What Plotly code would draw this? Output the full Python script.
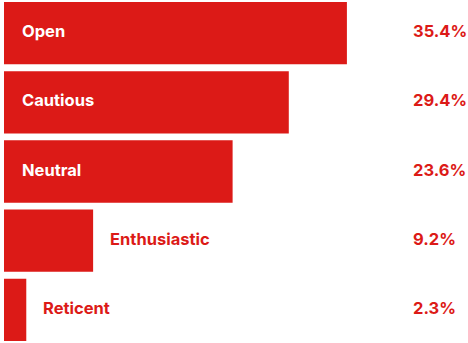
import plotly.graph_objects as go

categories = ["Open", "Cautious", "Neutral", "Enthusiastic", "Reticent"]
values = [35.4, 29.4, 23.6, 9.2, 2.3]
value_labels = ["35.4%", "29.4%", "23.6%", "9.2%", "2.3%"]

RED = "#dc1a17"
FONT = "Inter"

fig = go.Figure(go.Bar(
    x=values, y=categories, orientation="h",
    marker=dict(color=RED, line=dict(width=0)),
    hoverinfo="skip",
))

annotations = []
for cat, v, lab in zip(categories, values, value_labels):
    inside = v > 15
    annotations.append(dict(
        x=1.65 if inside else v + 1.55, y=cat, xref="x", yref="y", yshift=2,
        text="<b>%s</b>" % cat, showarrow=False, xanchor="left", yanchor="middle",
        font=dict(family=FONT, size=16.5, color="white" if inside else RED),
    ))
    annotations.append(dict(
        x=42.0, y=cat, xref="x", yref="y", yshift=2,
        text="<b>%s</b>" % lab, showarrow=False, xanchor="left", yanchor="middle",
        font=dict(family=FONT, size=16.5, color=RED),
    ))

fig.update_layout(
    width=468, height=343,
    margin=dict(l=4, r=0, t=0, b=0),
    paper_bgcolor="white", plot_bgcolor="white",
    bargap=0.1,
    showlegend=False,
    xaxis=dict(range=[0, 47.9], visible=False, fixedrange=True),
    yaxis=dict(range=[4.478, -0.478], visible=False, fixedrange=True),
    annotations=annotations,
)

fig.write_html("out.html", config={"displayModeBar": False})
